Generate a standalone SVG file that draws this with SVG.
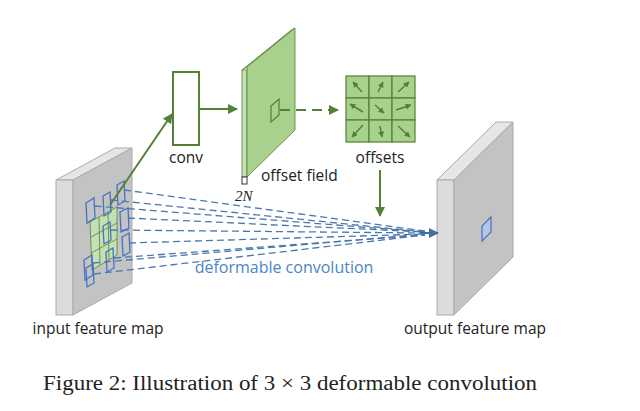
<svg xmlns="http://www.w3.org/2000/svg" width="640" height="411" viewBox="0 0 640 411">
<style>
.t{font-family:"Open Sans","Liberation Sans",sans-serif;font-size:15.5px;fill:#222}
.g{stroke:#538135;stroke-width:2;fill:none}
.d{stroke:#4a78ad;stroke-width:1.3;fill:none;stroke-dasharray:7 4}
.bs{fill:none;stroke:#4472c4;stroke-width:1.3}
.cell{fill:#a9d18e;stroke:#538135;stroke-width:1.2}
.oa{stroke:#538135;stroke-width:1.5;marker-end:url(#sa)}
</style>
<defs>
<marker id="ga" viewBox="0 0 10 10" refX="9" refY="5" markerWidth="5" markerHeight="5" orient="auto"><path d="M0,0L10,5L0,10z" fill="#538135"/></marker>
<marker id="sa" viewBox="0 0 10 10" refX="9" refY="5" markerWidth="4" markerHeight="4" orient="auto"><path d="M0,0L10,5L0,10z" fill="#538135"/></marker>
<marker id="ba" viewBox="0 0 10 10" refX="9" refY="5" markerWidth="5" markerHeight="5" orient="auto"><path d="M0,0L10,5L0,10z" fill="#3f6fa5"/></marker>
</defs>
<rect width="640" height="411" fill="#fff"/>
<g id="input">
<polygon points="56,180 73,180 132,148 115,148" fill="#e6e6e6" stroke="#aaa"/>
<rect x="56" y="180" width="17" height="135" fill="#dcdcdc" stroke="#aaa"/>
<polygon points="73,180 132,148 132,283 73,315" fill="#c3c3c3" stroke="#aaa"/>
<polygon points="90,222 117,207 117,255 92,270" fill="#c5e0b4" stroke="#538135" stroke-width="0.8"/>
<path d="M99,217L100,265M108,212L109,260M91,237L117,223M91,253L117,239" stroke="#538135" stroke-width="0.8"/>
<g class="bs">
<polygon points="86,203 94,198 95,218 87,223"/><polygon points="103,196 110,192 111,212 104,216"/><polygon points="117,185 124,181 125,201 118,205"/>
<polygon points="84,260 92,255 93,275 85,280"/><polygon points="103,226 110,222 111,240 104,244"/><polygon points="120,212 128,208 129,228 121,232"/>
<polygon points="86,268 93,264 94,283 87,287"/><polygon points="106,252 113,248 114,268 107,272"/><polygon points="122,237 129,233 130,252 123,256"/>
</g>
</g>
<g id="conv">
<rect x="173" y="72" width="26" height="73" fill="#fff" stroke="#538135" stroke-width="2"/>
<text class="t" x="186" y="163" text-anchor="middle">conv</text>
</g>
<g id="offsetfield">
<polygon points="242,70 247,67 295,28 290,31" fill="#d6eacb" stroke="#538135" stroke-width="0.8"/>
<rect x="242" y="70" width="5" height="107" fill="#c5e0b4" stroke="#538135" stroke-width="0.8"/>
<polygon points="247,67 295,28 295,130 247,177" fill="#a9d18e" stroke="#538135" stroke-width="0.8"/>
<polygon points="271,106 279,99 279,115 271,122" fill="none" stroke="#538135" stroke-width="1.2"/>
<rect x="242" y="177" width="5" height="7" fill="#fff" stroke="#333"/>
<text x="235" y="201" font-family="Liberation Serif,serif" font-style="italic" font-size="15" fill="#222">2N</text>
<text class="t" x="261" y="181">offset field</text>
</g>
<g id="offsets">
<rect class="cell" x="346" y="76" width="23" height="22"/><rect class="cell" x="369" y="76" width="23" height="22"/><rect class="cell" x="392" y="76" width="23" height="22"/>
<rect class="cell" x="346" y="98" width="23" height="22"/><rect class="cell" x="369" y="98" width="23" height="22"/><rect class="cell" x="392" y="98" width="23" height="22"/>
<rect class="cell" x="346" y="120" width="23" height="22"/><rect class="cell" x="369" y="120" width="23" height="22"/><rect class="cell" x="392" y="120" width="23" height="22"/>
<line class="oa" x1="362" y1="92" x2="353" y2="82"/><line class="oa" x1="378" y1="92" x2="383" y2="82"/><line class="oa" x1="398" y1="92" x2="409" y2="82"/>
<line class="oa" x1="363" y1="112" x2="350" y2="104"/><line class="oa" x1="375" y1="105" x2="384" y2="113"/><line class="oa" x1="396" y1="110" x2="411" y2="105"/>
<line class="oa" x1="363" y1="125" x2="352" y2="137"/><line class="oa" x1="380" y1="126" x2="382" y2="137"/><line class="oa" x1="398" y1="126" x2="410" y2="137"/>
<text class="t" x="380" y="163" text-anchor="middle">offsets</text>
</g>
<g id="output">
<polygon points="437,180 454,180 513,122 496,122" fill="#e6e6e6" stroke="#aaa"/>
<rect x="437" y="180" width="17" height="135" fill="#dcdcdc" stroke="#aaa"/>
<polygon points="454,180 513,122 513,257 454,315" fill="#c3c3c3" stroke="#aaa"/>
<polygon points="482,226 491,217 491,232 482,241" fill="#b4c7e7" stroke="#4472c4" stroke-width="1.2"/>
</g>
<g id="connectors">
<line class="g" x1="110" y1="205" x2="172" y2="114" marker-end="url(#ga)"/>
<line class="g" x1="199" y1="109" x2="237" y2="109" marker-end="url(#ga)"/>
<line class="g" x1="280" y1="110" x2="338" y2="110" stroke-dasharray="10 6" marker-end="url(#ga)"/>
<line class="g" x1="380" y1="170" x2="380" y2="216" marker-end="url(#ga)"/>
<g class="d">
<line x1="124" y1="190" x2="425" y2="231"/><line x1="111" y1="200" x2="425" y2="232"/><line x1="95" y1="206" x2="425" y2="232"/>
<line x1="128" y1="218" x2="425" y2="232"/><line x1="111" y1="230" x2="425" y2="233"/><line x1="93" y1="263" x2="425" y2="234"/>
<line x1="129" y1="243" x2="425" y2="234"/><line x1="114" y1="258" x2="425" y2="235"/><line x1="94" y1="274" x2="425" y2="235"/>
</g>
<line x1="420" y1="233" x2="438" y2="233" stroke="#3f6fa5" stroke-width="2" marker-end="url(#ba)"/>
</g>
<text x="284" y="273" text-anchor="middle" font-family="Open Sans,Liberation Sans,sans-serif" font-size="16" fill="#4a86c5">deformable convolution</text>
<text class="t" x="98" y="334" text-anchor="middle">input feature map</text>
<text class="t" x="475" y="334" text-anchor="middle">output feature map</text>
<text x="43" y="390" font-family="Liberation Serif,serif" font-size="20" fill="#222" textLength="494" lengthAdjust="spacingAndGlyphs">Figure 2: Illustration of 3 × 3 deformable convolution</text>
</svg>
